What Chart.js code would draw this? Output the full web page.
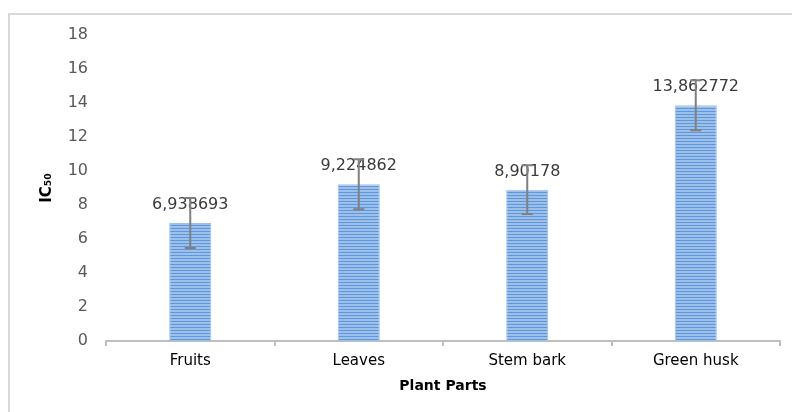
<!DOCTYPE html>
<html>
<head>
<meta charset="utf-8">
<script src="https://cdn.jsdelivr.net/npm/chart.js@4/dist/chart.umd.min.js"></script>
<style>
  html, body { margin: 0; padding: 0; background: #fff; }
  #wrap { position: relative; width: 792px; height: 412px; overflow: hidden; }
  #frame { position: absolute; left: 8px; top: 13px; width: 800px; height: 420px;
           border-left: 2px solid #d9d9d9; border-top: 2px solid #d9d9d9; box-sizing: border-box; }
  canvas { position: absolute; left: 0; top: 0; }
</style>
</head>
<body>
<div id="wrap">
  <div id="frame"></div>
  <canvas id="c" width="792" height="412"></canvas>
</div>
<script>
const categories = ['Fruits', 'Leaves', 'Stem bark', 'Green husk'];
const ic50Values = [6.938693, 9.224862, 8.90178, 13.862772];
const valueLabels = ['6,938693', '9,224862', '8,90178', '13,862772'];
const errorValues = [1.47, 1.47, 1.43, 1.47];
const yTicks = [0, 2, 4, 6, 8, 10, 12, 14, 16, 18];

function makePattern() {
  const p = document.createElement('canvas');
  p.width = 4; p.height = 3;
  const g = p.getContext('2d');
  g.fillStyle = '#9cc0ea';
  g.fillRect(0, 0, 4, 3);
  g.fillStyle = '#5e97da';
  g.fillRect(0, 0, 4, 1);
  return document.getElementById('c').getContext('2d').createPattern(p, 'repeat');
}

const overlay = {
  id: 'overlay',
  afterDatasetsDraw(chart) {
    const ctx = chart.ctx;
    const meta = chart.getDatasetMeta(0);
    const y = chart.scales.y;
    ctx.save();
    ctx.font = '16px "DejaVu Sans"';
    ctx.fillStyle = '#3a3a3a';
    ctx.textAlign = 'center';
    ctx.textBaseline = 'middle';
    meta.data.forEach((bar, i) => {
      ctx.fillText(valueLabels[i], bar.x, bar.y - 18);
    });
    ctx.strokeStyle = '#808080';
    ctx.lineWidth = 2;
    meta.data.forEach((bar, i) => {
      const top = y.getPixelForValue(ic50Values[i] + errorValues[i]);
      const bot = y.getPixelForValue(ic50Values[i] - errorValues[i]);
      ctx.beginPath();
      ctx.moveTo(bar.x, top); ctx.lineTo(bar.x, bot);
      ctx.moveTo(bar.x - 5.5, top); ctx.lineTo(bar.x + 5.5, top);
      ctx.moveTo(bar.x - 5.5, bot); ctx.lineTo(bar.x + 5.5, bot);
      ctx.stroke();
    });
    ctx.restore();
  }
};

new Chart(document.getElementById('c'), {
  type: 'bar',
  data: {
    labels: categories,
    datasets: [{
      data: ic50Values,
      backgroundColor: makePattern(),
      borderColor: '#9cc2ec',
      borderWidth: 1,
      categoryPercentage: 1,
      barPercentage: 0.25
    }]
  },
  options: {
    responsive: false,
    animation: false,
    devicePixelRatio: 1,
    layout: { padding: { top: 35, right: 12, left: 0, bottom: 0 } },
    plugins: { legend: { display: false }, tooltip: { enabled: false } },
    scales: {
      x: {
        grid: { display: true, drawOnChartArea: false, drawTicks: true, tickLength: 5, color: '#bfbfbf', lineWidth: 2 },
        border: { display: true, color: '#bfbfbf', width: 2 },
        ticks: { color: '#000', font: { family: 'DejaVu Sans', size: 15 }, padding: 6 },
        title: { display: true, text: 'Plant Parts', color: '#000',
                 font: { family: 'DejaVu Sans', size: 14, weight: 'bold' }, padding: { top: 0, bottom: 17 } },
        afterFit: s => { s.height = 71; }
      },
      y: {
        min: 0, max: 18,
        afterBuildTicks: s => { s.ticks = yTicks.map(v => ({ value: v })); },
        grid: { display: false, drawTicks: false },
        border: { display: false },
        ticks: { color: '#595959', font: { family: 'DejaVu Sans', size: 16 }, padding: 18 },
        title: { display: true, text: 'IC₅₀', color: '#000',
                 font: { family: 'DejaVu Sans', size: 15, weight: 'bold' }, padding: { top: 38, bottom: 0 } },
        afterFit: s => { s.width = 106; }
      }
    }
  },
  plugins: [overlay]
});
</script>
</body>
</html>
